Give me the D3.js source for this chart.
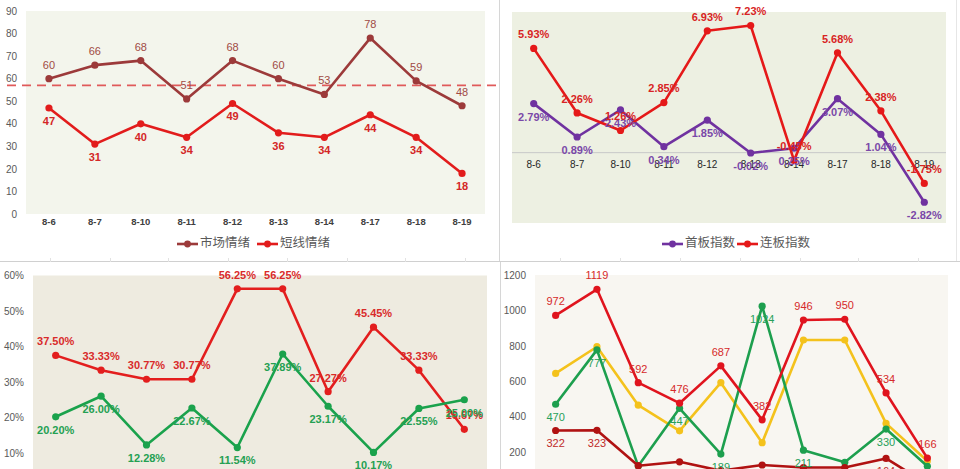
<!DOCTYPE html>
<html><head><meta charset="utf-8">
<script src="https://cdn.jsdelivr.net/npm/d3@7"></script>
<style>body{margin:0;background:#fff;overflow:hidden} svg{display:block}</style>
</head><body><svg id="c" width="960" height="469"></svg>
<script>
// ---------- data ----------
const categories = ["8-6","8-7","8-10","8-11","8-12","8-13","8-14","8-17","8-18","8-19"];

const marketMood = [60,66,68,51,68,60,53,78,59,48];
const shortMood  = [47,31,40,34,49,36,34,44,34,18];
const moodLine   = 57;
const moodTicks  = [0,10,20,30,40,50,60,70,80,90];

const firstBoard = [2.79,0.89,2.43,0.34,1.85,-0.02,0.25,3.07,1.04,-2.82];
const chainBoard = [5.93,2.26,1.26,2.85,6.93,7.23,-0.45,5.68,2.38,-1.75];

const promoRate = [37.50,33.33,30.77,30.77,56.25,56.25,27.27,45.45,33.33,16.67];
const sealRate  = [20.20,26.00,12.28,22.67,11.54,37.89,23.17,10.17,22.55,25.00];
const pctTicks  = [10,20,30,40,50,60];

const countRed    = [972,1119,592,476,687,382,946,950,534,166];
const countYellow = [644,795,465,320,592,253,833,833,362,150];
const countGreen  = [470,777,121,447,189,1024,211,142,330,120];
const countDark   = [322,323,123,145,95,127,113,113,164,20];
const countTicks  = [200,400,600,800,1000,1200];

// ---------- drawing ----------
const svg = d3.select("#c");
const FONT = "'Liberation Sans', Arial, sans-serif";
const LFONT = "'Liberation Sans Narrow', 'Liberation Sans', Arial, sans-serif";
const CJK = "'Noto Sans CJK SC', sans-serif";

// panel separators
svg.append("line").attr("x1",499.5).attr("x2",499.5).attr("y1",0).attr("y2",261).attr("stroke","#d6d6d6");
svg.append("line").attr("x1",0).attr("x2",960).attr("y1",261.5).attr("y2",261.5).attr("stroke","#d0d0d0");
svg.append("line").attr("x1",500.5).attr("x2",500.5).attr("y1",262).attr("y2",469).attr("stroke","#d6d6d6");
svg.append("line").attr("x1",956.5).attr("x2",956.5).attr("y1",0).attr("y2",261).attr("stroke","#e6e6e6");
[50,110,168,228,287,347,405,465,560,620,680,740,800,858,918].forEach(x=>{
  svg.append("line").attr("x1",x+0.5).attr("x2",x+0.5).attr("y1",258).attr("y2",262).attr("stroke","#e2e2e2");
});

function chart(cfg){
  const g = svg.append("g");
  const x = d3.scaleBand().domain(categories).range([cfg.left, cfg.right]);
  const y = d3.scaleLinear().domain(cfg.domain).range([cfg.bottom, cfg.top]);
  g.append("rect").attr("x",cfg.left).attr("y",cfg.top).attr("width",cfg.right-cfg.left)
    .attr("height",cfg.bottom-cfg.top).attr("fill",cfg.bg);

  if (cfg.yTicks){
    const ax = g.append("g").attr("transform",`translate(${cfg.left},0)`)
      .call(d3.axisLeft(y).tickValues(cfg.yTicks).tickSize(0).tickPadding(cfg.tickPad).tickFormat(cfg.yFmt));
    ax.select(".domain").remove();
    ax.selectAll("text").attr("fill","#595959").style("font-family",FONT).style("font-size","10px");
  }
  if (cfg.zeroLine){
    g.append("line").attr("x1",cfg.left).attr("x2",cfg.right).attr("y1",y(0)).attr("y2",y(0))
      .attr("stroke","#c8c8c8").attr("stroke-width",1);
  }
  if (cfg.xAxisY){
    const xa = g.append("g").attr("transform",`translate(0,${cfg.xAxisY})`)
      .call(d3.axisBottom(x).tickSize(0).tickPadding(0));
    xa.select(".domain").remove();
    xa.selectAll("text").attr("fill",cfg.xColor).attr("dy","0.35em")
      .style("font-family",FONT).style("font-size",cfg.xSize).style("font-weight",cfg.xWeight);
  }

  if (cfg.extra) cfg.extra(g, x, y);

  const cx = d => x(d) + x.bandwidth()/2;
  cfg.series.forEach(s=>{
    const pts = categories.map((c,i)=>[cx(c), y(s.values[i])]);
    g.append("path").attr("d", d3.line()(pts)).attr("fill","none")
      .attr("stroke",s.color).attr("stroke-width",2.6).attr("stroke-linejoin","round");
    g.selectAll(null).data(pts).enter().append("circle")
      .attr("cx",d=>d[0]).attr("cy",d=>d[1]).attr("r",3.6).attr("fill",s.color);
  });
  cfg.series.forEach(s=>{
    if (!s.labels) return;
    g.selectAll(null).data(categories).enter().append("text")
      .attr("x",d=>cx(d)).attr("y",(d,i)=>y(s.values[i]) + (s.pos==="above" ? -13 : 14))
      .attr("text-anchor","middle").attr("dominant-baseline","middle")
      .attr("fill",s.labelColor).style("font-family",LFONT).style("font-size","11px")
      .style("font-weight",s.weight||"bold")
      .text((d,i)=>s.fmt(s.values[i]));
  });
  if (cfg.legend){
    cfg.legend.forEach(l=>{
      g.append("line").attr("x1",l.x).attr("x2",l.x+21).attr("y1",cfg.legendY).attr("y2",cfg.legendY)
        .attr("stroke",l.color).attr("stroke-width",2.6);
      g.append("circle").attr("cx",l.x+10.5).attr("cy",cfg.legendY).attr("r",3.4).attr("fill",l.color);
      g.append("text").attr("x",l.x+23).attr("y",cfg.legendY).attr("dominant-baseline","middle")
        .attr("fill","#595959").style("font-family",CJK).style("font-size","12.5px").text(l.name);
    });
  }
}

const intFmt = v => String(Math.round(v));
const pct2 = v => v.toFixed(2) + "%";

// top-left: 市场情绪 / 短线情绪
chart({
  left:26, right:485, top:11, bottom:214, domain:[0,90], bg:"#f3f5ec",
  yTicks:moodTicks, tickPad:9, yFmt:d=>String(d),
  xAxisY:222, xColor:"#404040", xSize:"9.5px", xWeight:"bold",
  extra:(g,x,y)=>{
    g.append("line").attr("x1",7).attr("x2",498).attr("y1",y(moodLine)).attr("y2",y(moodLine))
      .attr("stroke","#e05a5a").attr("stroke-width",1.8).attr("stroke-dasharray","9,6");
  },
  series:[
    {values:marketMood, color:"#9c3a3a", labelColor:"#a04a44", pos:"above", labels:true, fmt:intFmt, weight:"normal"},
    {values:shortMood, color:"#e21c1c", labelColor:"#d42626", pos:"below", labels:true, fmt:intFmt}
  ],
  legendY:244,
  legend:[{x:177,name:"市场情绪",color:"#9c3a3a"},{x:257,name:"短线情绪",color:"#e21c1c"}]
});

// top-right: 首板指数 / 连板指数
chart({
  left:512, right:946, top:12, bottom:223, domain:[-4,8], bg:"#edf0e2",
  yTicks:null, zeroLine:true,
  xAxisY:164.5, xColor:"#262626", xSize:"10px", xWeight:"normal",
  series:[
    {values:firstBoard, color:"#7032a0", labelColor:"#7a48a8", pos:"below", labels:true, fmt:pct2},
    {values:chainBoard, color:"#e51919", labelColor:"#d82424", pos:"above", labels:true, fmt:pct2}
  ],
  legendY:244,
  legend:[{x:662,name:"首板指数",color:"#7032a0"},{x:737,name:"连板指数",color:"#e51919"}]
});

// bottom-left: rates
chart({
  left:33, right:487, top:275.5, bottom:488.5, domain:[0,60], bg:"#eeebe0",
  yTicks:pctTicks, tickPad:9, yFmt:d=>d+"%",
  series:[
    {values:promoRate, color:"#e31e1e", labelColor:"#d92a2a", pos:"above", labels:true, fmt:pct2},
    {values:sealRate, color:"#1aa24c", labelColor:"#24a052", pos:"below", labels:true, fmt:pct2}
  ]
});

// bottom-right: counts
chart({
  left:535, right:948, top:275, bottom:487.5, domain:[0,1200], bg:"#f8f6f1",
  yTicks:countTicks, tickPad:9, yFmt:d=>String(d),
  series:[
    {values:countYellow, color:"#f4c21c", labels:false},
    {values:countGreen, color:"#1d9f4e", labelColor:"#27a05a", pos:"below", labels:true, fmt:intFmt, weight:"normal"},
    {values:countDark, color:"#b01212", labelColor:"#c02a2a", pos:"below", labels:true, fmt:intFmt, weight:"normal"},
    {values:countRed, color:"#e0141e", labelColor:"#d62a2a", pos:"above", labels:true, fmt:intFmt, weight:"normal"}
  ]
});
</script></body></html>
